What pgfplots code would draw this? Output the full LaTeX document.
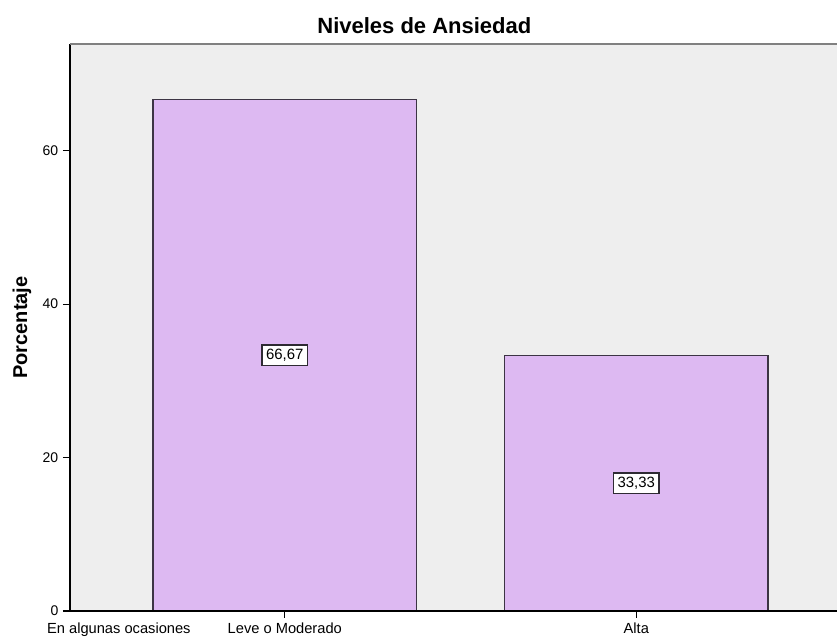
\documentclass[border=0pt]{standalone}
\usepackage{fontspec}
\setmainfont{Liberation Sans}
\usepackage{pgfplots}
\pgfplotsset{compat=1.18}
\usepackage{pgfplotstable}

\definecolor{plotbg}{HTML}{EEEEEE}
\definecolor{barfill}{HTML}{DDB9F2}
\definecolor{barline}{HTML}{3C3444}
\definecolor{boxline}{HTML}{2E2A33}
\definecolor{frametop}{HTML}{808080}

% Porcentaje por nivel de ansiedad
\pgfplotstableread{
x v
1 66.67
2 33.33
}\niveles

\begin{document}
\begin{tikzpicture}
\begin{axis}[
  scale only axis,
  width=575.25pt, height=425.25pt,
  xmin=0.389, xmax=2.571,
  ymin=0, ymax=73.9,
  clip=false,
  axis line style={draw=none},
  axis background/.style={fill=plotbg},
  xtick={1,2},
  xticklabels={Leve o Moderado, Alta},
  extra x ticks={0.528},
  extra x tick labels={En algunas ocasiones},
  extra x tick style={tick style={draw=none}},
  ytick={0,20,40,60},
  tick pos=left,
  tick align=outside,
  major tick length=5.25pt,
  tick style={black, line width=0.8pt},
  /pgf/number format/assume math mode=true,
  yticklabel style={font=\fontsize{10.5}{12}\selectfont},
  xticklabel style={font=\fontsize{11}{13}\selectfont},
]
\addplot[ybar, bar width=0.75, fill=barfill, draw=barline, line width=1pt]
  table[x=x, y=v] {\niveles};
\addplot[draw=none, mark=none, point meta=explicit,
  nodes near coords={\pgfmathprintnumber[assume math mode=true, fixed, fixed zerofill, precision=2, use comma]{\pgfplotspointmeta}},
  nodes near coords style={anchor=center, fill=white, draw=boxline, line width=1pt,
    font=\fontsize{11.2}{13}\selectfont, inner xsep=3pt, inner ysep=3.2pt,
    text height=7.6pt, text depth=1.4pt}]
  table[x=x, y expr=\thisrow{v}/2, meta=v] {\niveles};
% ejes y marco superior
\draw[black, line width=1.1pt] (rel axis cs:0,1) -- (rel axis cs:0,0) -- (rel axis cs:1,0);
\draw[frametop, line width=1.5pt] (rel axis cs:0,1) -- (rel axis cs:1,1);
\node[anchor=base, font=\bfseries\fontsize{16.5}{18}\selectfont]
  at ([yshift=7.5pt]rel axis cs:0.462,1) {Niveles de Ansiedad};
\node[rotate=90, anchor=center, font=\bfseries\fontsize{15}{17}\selectfont]
  at ([xshift=-36pt]rel axis cs:0,0.5) {Porcentaje};
\coordinate (bl) at (rel axis cs:0,0);
\coordinate (tr) at (rel axis cs:1,1);
\end{axis}
\pgfresetboundingbox
\path ([xshift=-52.5pt,yshift=-19.5pt]bl) rectangle ([yshift=33pt]tr);
\end{tikzpicture}
\end{document}
